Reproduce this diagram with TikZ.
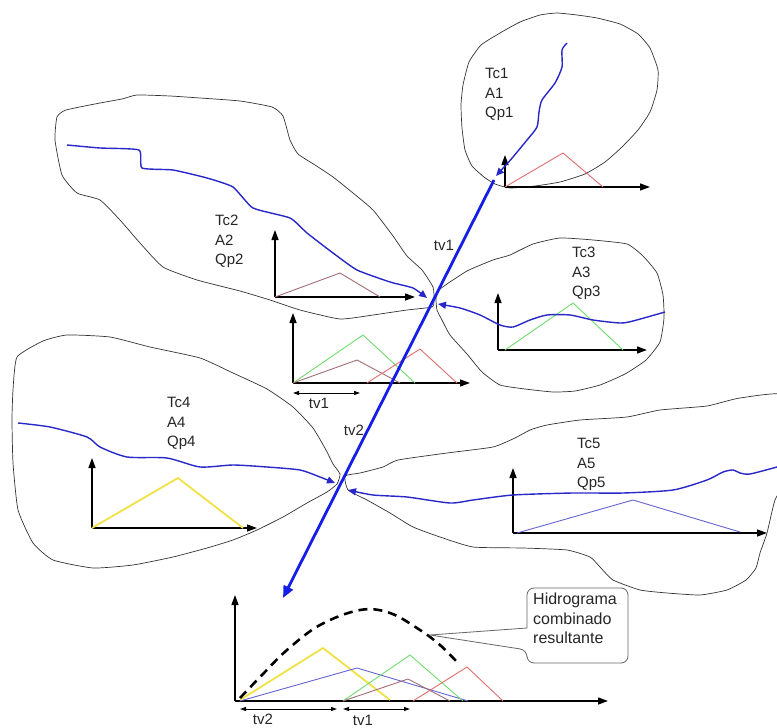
\documentclass[tikz,border=0pt]{standalone}
\usepackage{fontspec}
\setmainfont{Liberation Sans}
\usetikzlibrary{arrows.meta}
\definecolor{rivblue}{RGB}{40,40,200}
\definecolor{chanblue}{RGB}{20,30,230}
\definecolor{hred}{RGB}{225,110,110}
\definecolor{hbrown}{RGB}{160,110,115}
\definecolor{hgreen}{RGB}{110,220,110}
\definecolor{hyellow}{RGB}{240,225,70}
\definecolor{hpurple}{RGB}{100,100,210}

\begin{document}
\begin{tikzpicture}[x=1pt, y=-1pt,
  basin/.style={black!80, line width=0.7pt, line join=round},
  river/.style={rivblue, line width=1.4pt, -{Triangle[length=8pt,width=7pt]}},
  channel/.style={chanblue, line width=2.8pt, -{Triangle[length=12pt,width=10pt]}},
  axis/.style={black, line width=1.3pt, -{Triangle[length=10pt,width=7pt]}},
  hydro/.style={line width=0.9pt},
  span/.style={black, line width=1pt, {Triangle[length=6pt,width=4pt]}-{Triangle[length=6pt,width=4pt]}},
  lbl/.style={font=\fontsize{15}{19.5}\selectfont, text=black!85, align=left, inner sep=0pt, anchor=north west},
  tv/.style={font=\fontsize{15}{18}\selectfont, text=black!85, inner sep=0pt}]
\useasboundingbox (0,0) rectangle (777,728);

% sub-basins
\draw[basin] plot[smooth cycle, tension=0.3] coordinates {(495,184) (484,177) (472,166) (465,150) (462,128) (461,105) (463,85) (469,62) (481,45) (500,33) (520,22) (540,15) (557,13) (577,15) (597,18) (620,24) (638,34) (650,48) (658,70) (657,90) (650,112) (638,130) (622,147) (605,162) (585,174) (560,182) (535,186) (510,188)};
\draw[basin] plot[smooth cycle, tension=0.3] coordinates {(57,117) (66,110) (100,103) (122,99) (137,95) (170,96) (200,98) (240,101) (272,107) (283,116) (290,140) (298,154) (315,165) (333,177) (353,193) (373,210) (393,236) (407,256) (422,270) (433,287) (434,300) (432,307) (407,310) (373,315) (340,319) (300,310) (270,300) (240,291) (197,280) (163,267) (140,243) (120,220) (100,200) (77,193) (62,175) (55,140)};
\draw[basin] plot[smooth cycle, tension=0.3] coordinates {(440,289) (467,271) (493,260) (510,255) (533,244) (560,238) (593,240) (627,244) (643,256) (657,273) (663,295) (664,318) (660,342) (646,360) (625,374) (600,385) (575,391) (553,392) (525,389) (500,385) (482,372) (467,354) (450,335) (442,320) (437,310) (436,298)};
\draw[basin] plot[smooth cycle, tension=0.3] coordinates {(17,357) (43,341) (67,335) (110,337) (150,347) (200,358) (233,373) (267,389) (293,407) (313,428) (326,450) (333,464) (340,474) (337,484) (327,492) (307,503) (283,517) (257,530) (233,540) (207,548) (173,557) (133,565) (93,568) (53,560) (33,543) (18,510) (13,463) (12,420) (13,390)};
\draw[basin] plot[smooth cycle, tension=0.3] coordinates {(345,476) (360,473) (383,467) (398,460) (447,453) (493,447) (515,438) (530,430) (547,425) (580,420) (627,417) (660,410) (707,406) (740,398) (790,396) (790,470) (775,500) (767,533) (760,553) (756,568) (746,580) (727,590) (700,595) (667,593) (640,590) (613,580) (600,567) (590,557) (567,550) (523,548) (473,547) (440,537) (413,527) (390,513) (367,500) (348,490)};

% hydrographs of each sub-basin
\draw[axis] (505,187) -- (505,155);
\draw[axis] (505,187) -- (650,187);
\draw[hydro, hred] (505,187) -- (563,153) -- (603,187);

\draw[axis] (275,297) -- (275,230);
\draw[axis] (275,297) -- (415,297);
\draw[hydro, hbrown] (275,297) -- (340,273) -- (380,297);

\draw[axis] (498,350) -- (498,293);
\draw[axis] (498,350) -- (647,350);
\draw[hydro, hgreen] (505,350) -- (573,303) -- (623,350);

\draw[axis] (92,528) -- (92,458);
\draw[axis] (92,528) -- (257,528);
\draw[hydro, hyellow, line width=1.8pt] (92,528) -- (178,478) -- (243,528);

\draw[axis] (513,533) -- (513,468);
\draw[axis] (513,533) -- (767,533);
\draw[hydro, hpurple] (517,533) -- (633,500) -- (740,532);

% sum at the first junction
\draw[axis] (293,383) -- (293,313);
\draw[axis] (293,383) -- (470,383);
\draw[hydro, hgreen] (293,383) -- (363,335) -- (415,383);
\draw[hydro, hbrown] (293,383) -- (357,360) -- (400,383);
\draw[hydro, hred] (367,383) -- (420,349) -- (457,383);
\draw[span] (293,393) -- (360,393);
\node[tv] (tvA) at (319,403) {tv1};

% sum at the outlet
\draw[axis] (235,701) -- (235,595);
\draw[axis] (235,701) -- (608,701);
\draw[hydro, hyellow, line width=1.8pt] (240,700) -- (323,648) -- (390,700);
\draw[hydro, hpurple] (240,701) -- (357,668) -- (468,701);
\draw[hydro, hgreen] (343,701) -- (410,655) -- (463,701);
\draw[hydro, hbrown] (343,701) -- (408,679) -- (450,701);
\draw[hydro, hred] (413,701) -- (467,667) -- (503,701);
\draw[line width=2.6pt, dash pattern=on 9pt off 6pt] plot[smooth, tension=0.6] coordinates {(240,698) (262,675) (287,650) (320,625) (360,610) (390,613) (420,630) (440,645) (457,662)};
\draw[span] (240,709) -- (337,709);
\draw[span] (343,709) -- (410,709);
\node[tv] (tvB) at (263,719) {tv2};
\node[tv] (tvC) at (363,720) {tv1};

% streams
\draw[river] plot[smooth, tension=0.4] coordinates {(567,43) (562,50) (562,67) (555,83) (542,100) (539,112) (537,127) (527,140) (513,157) (505,166) (496,176)};
\draw[river] plot[smooth, tension=0.3] coordinates {(67,145) (100,148) (139,150) (142,168) (173,170) (207,178) (233,187) (253,208) (290,218) (307,233) (333,253) (357,270) (390,282) (413,288) (427,298)};
\draw[river] plot[smooth, tension=0.4] coordinates {(665,312) (633,321) (620,323) (593,320) (570,315) (547,315) (530,320) (513,327) (500,325) (480,315) (460,308) (438,304)};
\draw[river] plot[smooth, tension=0.4] coordinates {(18,423) (50,427) (87,437) (100,447) (127,457) (167,458) (200,467) (233,465) (267,467) (300,470) (320,477) (335,483)};
\draw[river] plot[smooth, tension=0.4] coordinates {(777,467) (750,474) (740,473) (733,470) (723,472) (707,480) (673,490) (623,493) (573,493) (513,495) (473,500) (450,503) (407,497) (373,495) (348,490)};

% main channel
\coordinate (ch0) at (494,180);
\coordinate (ch1) at (283,598);
\draw[channel] (ch0) -- (ch1);
\node[tv] (tvD) at (444,245) {tv1};
\node[tv] (tvE) at (354,430) {tv2};

% labels
\node[lbl] (b1) at (485,68) {Tc1\\A1\\Qp1};
\node[lbl] (b2) at (215,215) {Tc2\\A2\\Qp2};
\node[lbl] (b3) at (572,247) {Tc3\\A3\\Qp3};
\node[lbl] (b4) at (167,397) {Tc4\\A4\\Qp4};
\node[lbl] (b5) at (577,438) {Tc5\\A5\\Qp5};

% callout
\coordinate (tip) at (430,635);
\draw[black!60, line width=0.8pt, fill=white] (527,628) [rounded corners=7pt] -- (527,588) -- (628,588) -- (628,663) -- (527,663) -- (527,650) [sharp corners] -- (tip) -- cycle;
\node[lbl, font=\fontsize{16}{19.5}\selectfont] (note) at (533,593) {Hidrograma\\combinado\\resultante};
\end{tikzpicture}
\end{document}
